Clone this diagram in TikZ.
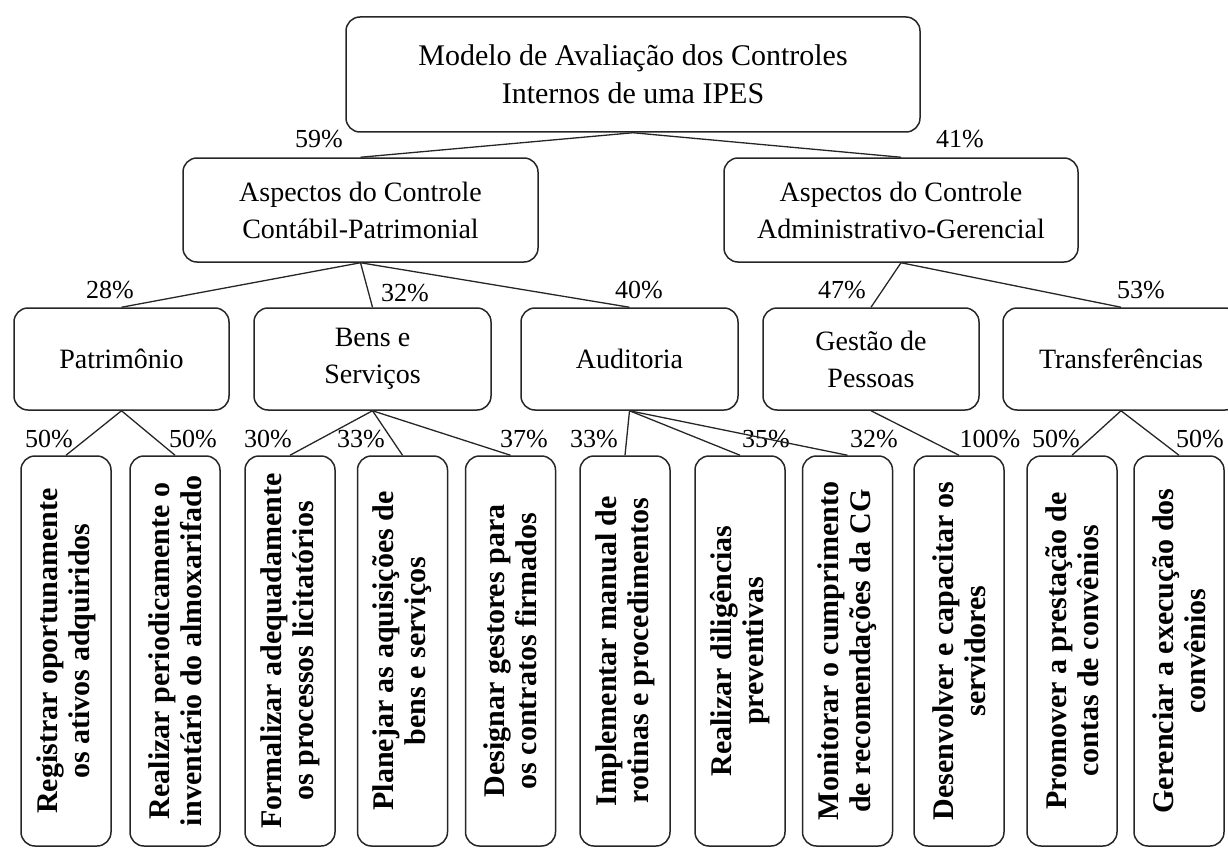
\documentclass[tikz,border=0pt]{standalone}
\usepackage{fontspec}
\setmainfont{Liberation Serif}

\tikzset{
  box/.style={draw=black!85, line width=1.5pt, rounded corners=14pt, align=center, inner sep=0pt},
  topbox/.style={box, minimum height=104pt, font=\fontsize{28}{37}\selectfont},
  midbox/.style={box, minimum height=102pt, font=\fontsize{28}{37}\selectfont},
  leaf/.style={box, rotate=90, minimum width=390pt, minimum height=90pt,
    font=\bfseries\fontsize{30}{32}\selectfont},
  pct/.style={inner sep=0pt, font=\fontsize{26}{30}\selectfont},
}

\begin{document}
\begin{tikzpicture}[x=1pt,y=-1pt]
      \useasboundingbox (0,0) rectangle (1228,848);
      \draw
        (633,74.5) node[box, minimum width=574pt, minimum height=115pt,
          font=\fontsize{30}{38}\selectfont] (root){Modelo de Avaliação dos Controles\\Internos de uma IPES}
        (360.5,210) node[topbox, minimum width=355pt] (cp){Aspectos do Controle\\Contábil-Patrimonial}
        (901,210) node[topbox, minimum width=354pt] (ag){Aspectos do Controle\\Administrativo-Gerencial};
      \draw
        (121.5,359) node[midbox, minimum width=215pt] (patr){Patrimônio}
        (372.5,359) node[midbox, minimum width=237pt] (bens){Bens e\\Serviços}
        (629.5,359) node[midbox, minimum width=217pt] (aud){Auditoria}
        (871,359) node[midbox, minimum width=216pt] (pess){Gestão de\\Pessoas}
        (1121,359) node[midbox, minimum width=236pt] (transf){Transferências};
      \draw
        (66,651) node[leaf] (reg){Registrar oportunamente\\os ativos adquiridos}
        (175,651) node[leaf] (inv){Realizar periodicamente o\\inventário do almoxarifado}
        (290,651) node[leaf] (form){Formalizar adequadamente\\os processos licitatórios}
        (402.5,651) node[leaf] (plan){Planejar as aquisições de\\bens e serviços}
        (510.5,651) node[leaf] (desig){Designar gestores para\\os contratos firmados}
        (625,651) node[leaf] (impl){Implementar manual de\\rotinas e procedimentos}
        (740,651) node[leaf] (dilig){Realizar diligências\\preventivas}
        (847.5,651) node[leaf] (monit){Monitorar o cumprimento\\de recomendações da CG}
        (959,651) node[leaf] (desenv){Desenvolver e capacitar os\\servidores}
        (1072,651) node[leaf] (prest){Promover a prestação de\\contas de convênios}
        (1179,651) node[leaf] (exec){Gerenciar a execução dos\\convênios};
      % pesos
      \draw
        (319,139) node[pct] (w59){59\%}
        (960,139) node[pct] (w41){41\%}
        (110,290) node[pct] (w28){28\%}
        (405,293) node[pct] (w32){32\%}
        (639,290) node[pct] (w40){40\%}
        (842,290) node[pct] (w47){47\%}
        (1141,290) node[pct] (w53){53\%}
        (49,439) node[pct] (wa){50\%}
        (193,439) node[pct] (wb){50\%}
        (268,439) node[pct] (wc){30\%}
        (361,439) node[pct] (wd){33\%}
        (524,439) node[pct] (we){37\%}
        (594,439) node[pct] (wf){33\%}
        (766,439) node[pct] (wg){35\%}
        (874,439) node[pct] (wh){32\%}
        (990,439) node[pct] (wi){100\%}
        (1056,439) node[pct] (wj){50\%}
        (1200,439) node[pct] (wk){50\%};
      \begin{scope}[-, draw=black!85, line width=1.3pt]
        \draw (root.south) to (cp.north);
        \draw (root.south) to (ag.north);
        \draw (cp.south) to (patr.north);
        \draw (cp.south) to (bens.north);
        \draw (cp.south) to (aud.north);
        \draw (ag.south) to (pess.north);
        \draw (ag.south) to (transf.north);
        \draw (patr.south) to (reg.east);
        \draw (patr.south) to (inv.east);
        \draw (bens.south) to (form.east);
        \draw (bens.south) to (plan.east);
        \draw (bens.south) to (desig.east);
        \draw (aud.south) to (impl.east);
        \draw (aud.south) to (dilig.east);
        \draw (aud.south) to (monit.east);
        \draw (pess.south) to (desenv.east);
        \draw (transf.south) to (prest.east);
        \draw (transf.south) to (exec.east);
      \end{scope}
    \end{tikzpicture}
\end{document}
